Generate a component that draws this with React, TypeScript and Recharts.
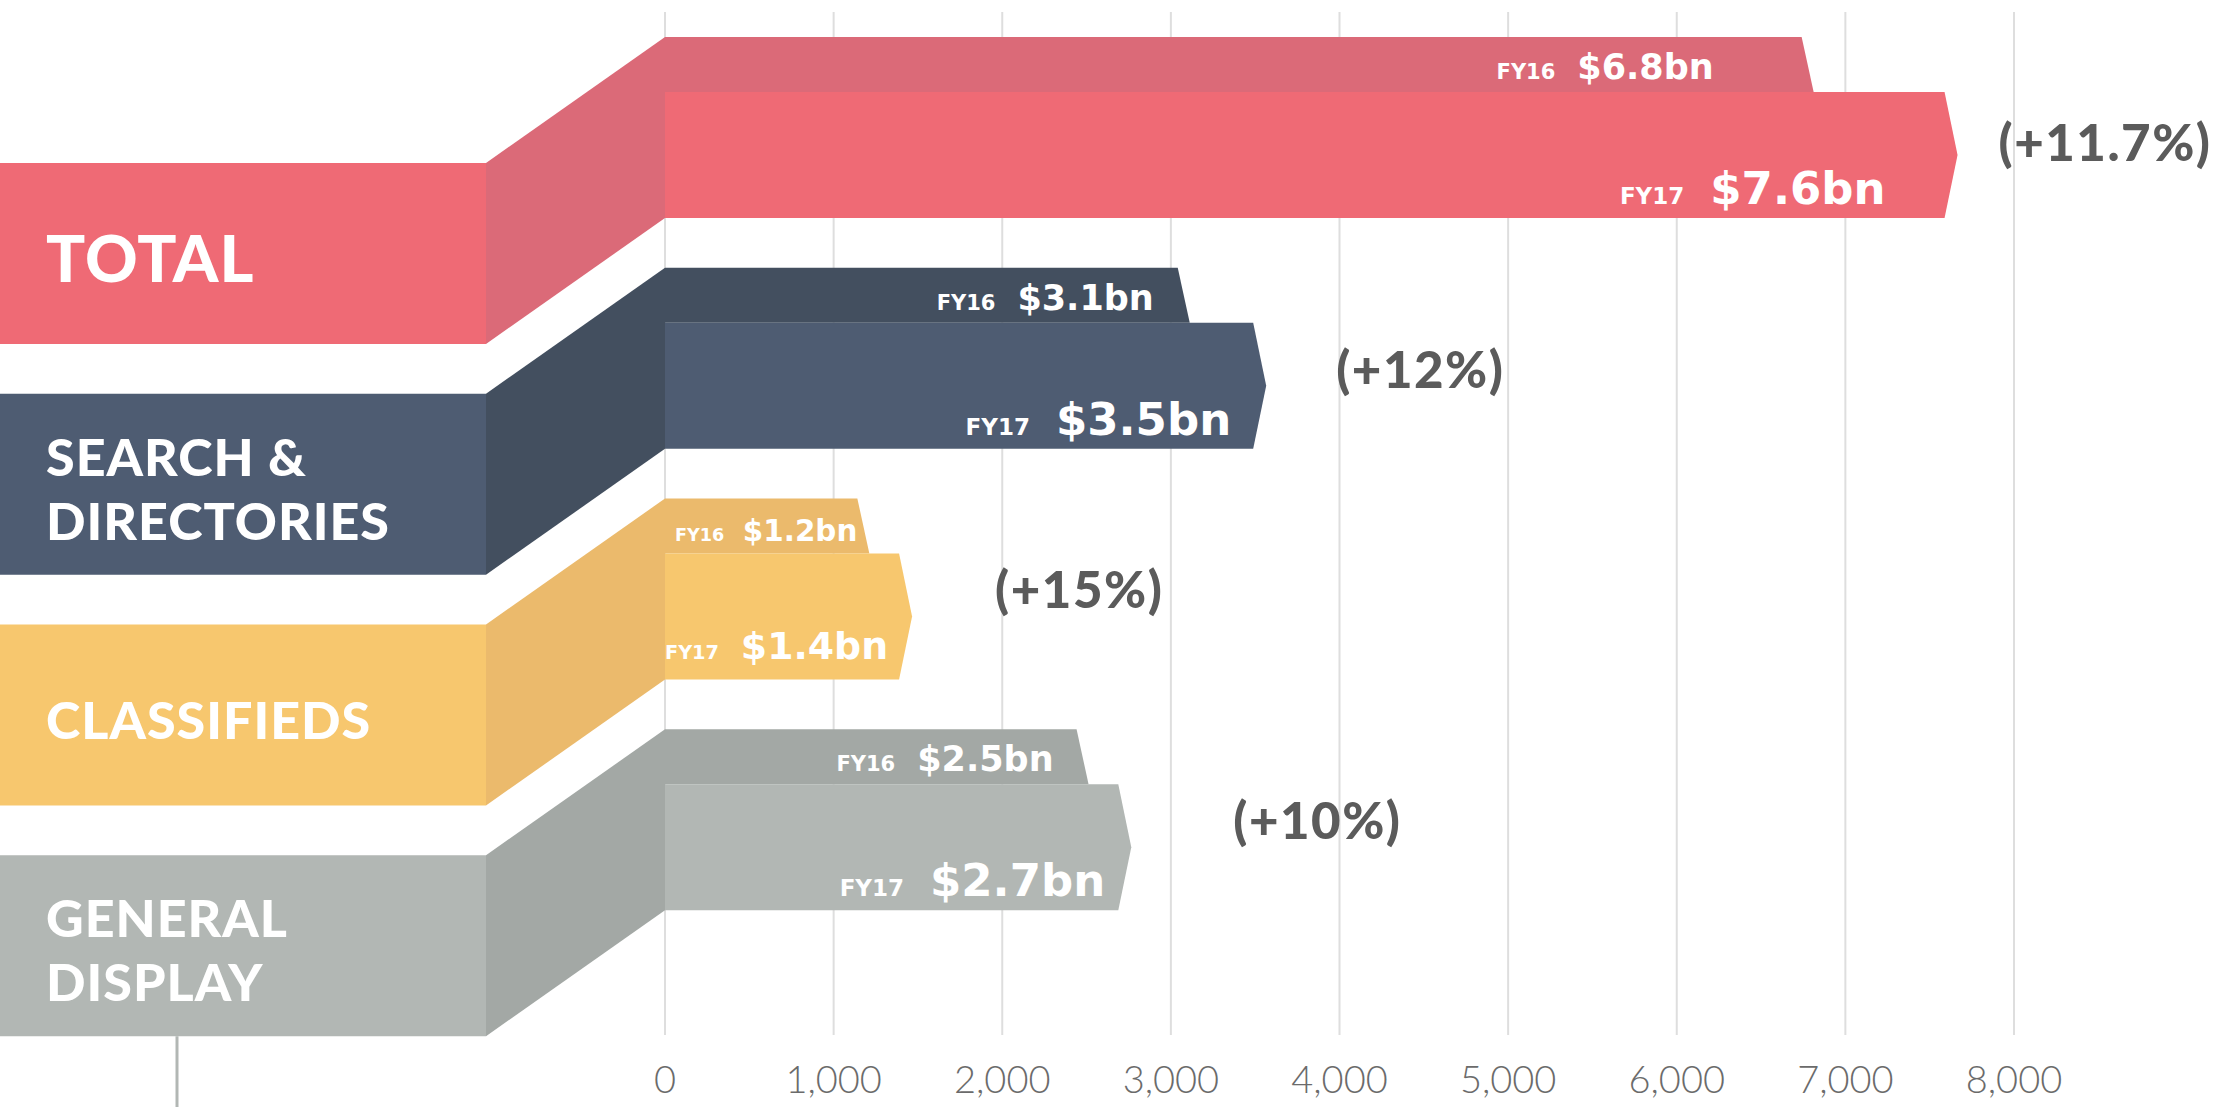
import { Bar, BarChart, CartesianGrid, XAxis, YAxis } from 'recharts'

// Revenue by segment, A$m (axis) — labels shown in $bn
const CATEGORIES = ['TOTAL', 'SEARCH & DIRECTORIES', 'CLASSIFIEDS', 'GENERAL DISPLAY']
const FY16 = [6800, 3100, 1200, 2500]
const FY17 = [7600, 3500, 1400, 2700]
const GROWTH = ['+11.7%', '+12%', '+15%', '+10%']
const X_TICKS = [0, 1000, 2000, 3000, 4000, 5000, 6000, 7000, 8000]

// FY17 bar / label block colour, and the darker FY16 bar / connector colour
const MAIN = ['#ef6a75', '#4e5c72', '#f7c76e', '#b2b7b4']
const DARK = ['#db6a78', '#434f5f', '#ebba6c', '#a3a8a5']

// hand nudges for the in-bar value labels and the growth labels
const NUDGE = [
  { in16: 98, in17: 61, scale: 1, pctDx: 41, pctDy: 6 },
  { in16: 34, in17: 24, scale: 1, pctDx: 70, pctDy: 2 },
  { in16: 10, in17: 13, scale: 0.84, pctDx: 83, pctDy: -9 },
  { in16: 33, in17: 15, scale: 1, pctDx: 102, pctDy: -8 },
]

const W = 2228
const H = 1107
const BAR16 = 55
const BAR17 = 126
const BLOCK_RIGHT = 486
const BLOCK_DROP = 126
const LABEL_FONT = "Lato, 'DejaVu Sans', sans-serif"
const VALUE_FONT = "'DejaVu Sans', sans-serif"

const bn = (v: number) => `$${(v / 1000).toFixed(1)}bn`

const rows = CATEGORIES.map((name, i) => ({ name, fy16: FY16[i], fy17: FY17[i] }))

function idxOf(props: any) {
  const i = CATEGORIES.indexOf(props.payload?.name)
  return i >= 0 ? i : props.index ?? 0
}

function Fy16Bar(props: any) {
  const { x, y, width, height } = props
  const i = idxOf(props)
  const end = x + width
  const n = NUDGE[i]
  return (
    <g>
      <polygon
        points={`${x},${y} ${end - 10},${y} ${end + 2},${y + height} ${x},${y + height}`}
        fill={DARK[i]}
      />
      <text x={end - n.in16} y={y + height - 13} textAnchor="end" fill="#fff" fontFamily={VALUE_FONT} fontWeight="bold">
        <tspan fontSize={21 * n.scale}>FY16</tspan>
        <tspan dx={22 * n.scale} fontSize={35 * n.scale}>{bn(FY16[i])}</tspan>
      </text>
    </g>
  )
}

function Fy17Bar(props: any) {
  const { x, y, width, height } = props
  const i = idxOf(props)
  const n = NUDGE[i]
  const end = x + width
  const top = y - BAR16
  const bottom = y + height
  const mid = y + height / 2
  const bTop = top + BLOCK_DROP
  const bBot = bottom + BLOCK_DROP
  const words = CATEGORIES[i].split(' ')
  const lines = words.length > 1 ? [words.slice(0, -1).join(' '), words[words.length - 1]] : words
  const fs = i === 0 ? 65 : 52
  const cap = fs * 0.72
  const center = (bTop + bBot) / 2 + 5
  const lineGap = 64
  return (
    <g>
      <rect x={0} y={bTop} width={BLOCK_RIGHT} height={bBot - bTop} fill={MAIN[i]} />
      <polygon points={`${BLOCK_RIGHT},${bTop} ${x},${top} ${x},${bottom} ${BLOCK_RIGHT},${bBot}`} fill={DARK[i]} />
      {lines.map((t, k) => (
        <text
          key={t}
          x={46}
          y={center + cap / 2 + (k - (lines.length - 1) / 2) * lineGap}
          fill="#fff"
          fontFamily={LABEL_FONT}
          fontWeight={900}
          fontSize={fs}
          letterSpacing={1}
        >
          {t}
        </text>
      ))}
      {i === CATEGORIES.length - 1 && <line x1={177} x2={177} y1={bBot} y2={H} stroke={MAIN[i]} strokeWidth={3} />}
      <polygon
        points={`${x},${y} ${end - 2},${y} ${end + 11},${mid} ${end - 2},${bottom} ${x},${bottom}`}
        fill={MAIN[i]}
      />
      <text x={end - n.in17} y={bottom - 14 - (1 - n.scale) * 40} textAnchor="end" fill="#fff" fontFamily={VALUE_FONT} fontWeight="bold">
        <tspan fontSize={23 * n.scale}>FY17</tspan>
        <tspan dx={26 * n.scale} fontSize={45 * n.scale}>{bn(FY17[i])}</tspan>
      </text>
      <text
        x={end + 11 + n.pctDx}
        y={mid + n.pctDy}
        fill="#5b5b5b"
        fontFamily={LABEL_FONT}
        fontWeight={900}
        fontSize={51}
        letterSpacing={1.5}
      >
        ({GROWTH[i]})
      </text>
    </g>
  )
}

function Tick({ x, y, payload }: any) {
  return (
    <text x={x} y={y + 50} textAnchor="middle" fill="#6b6b6b" fontFamily={LABEL_FONT} fontWeight={300} fontSize={38}>
      {Number(payload.value).toLocaleString('en-US')}
    </text>
  )
}

export default function App() {
  return (
    <div style={{ width: W, height: H, background: '#fff' }}>
      <style>{'body{margin:0}'}</style>
      <BarChart
        layout="vertical"
        width={W}
        height={H}
        data={rows}
        margin={{ top: 12, right: 214, bottom: 32, left: 665 }}
        barGap={0}
      >
        <CartesianGrid horizontal={false} stroke="#dedede" strokeWidth={2} />
        <XAxis
          type="number"
          domain={[0, 8000]}
          ticks={X_TICKS}
          axisLine={false}
          tickLine={false}
          height={40}
          tick={<Tick />}
        />
        <YAxis type="category" dataKey="name" hide padding={{ top: 0, bottom: 100 }} />
        <Bar dataKey="fy16" barSize={BAR16} shape={<Fy16Bar />} isAnimationActive={false} />
        <Bar dataKey="fy17" barSize={BAR17} shape={<Fy17Bar />} isAnimationActive={false} />
      </BarChart>
    </div>
  )
}
